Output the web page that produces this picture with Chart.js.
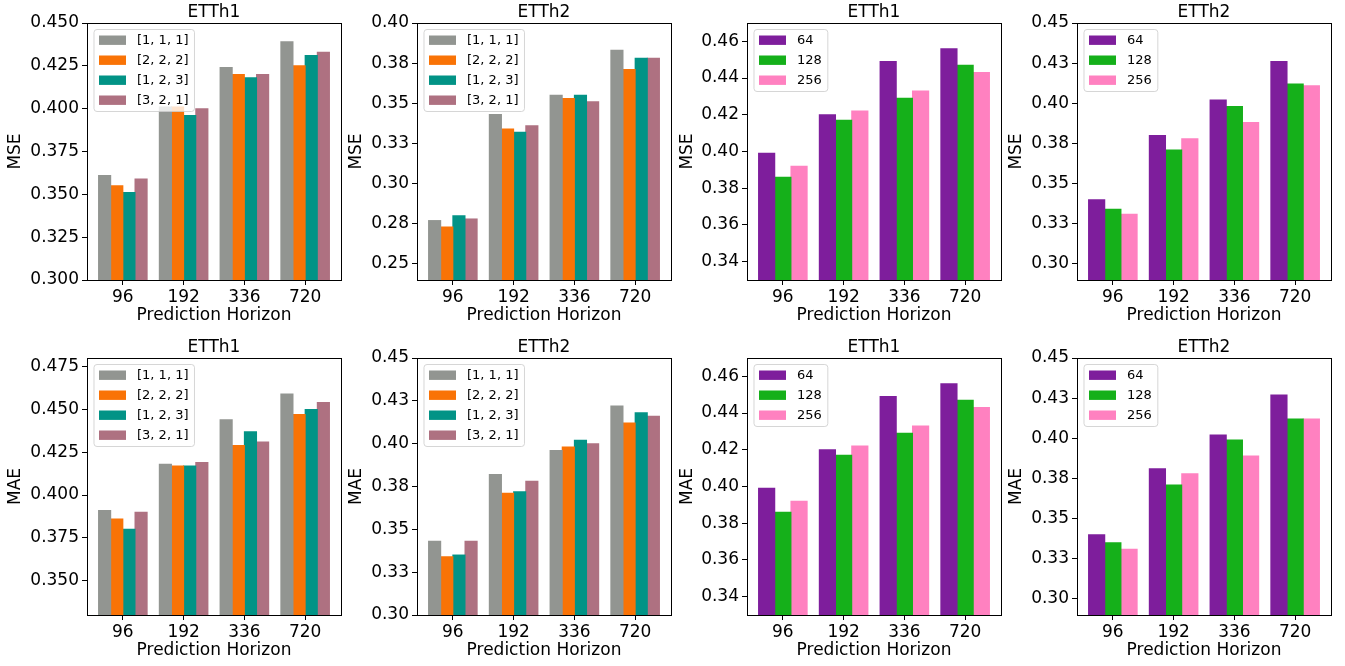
<!DOCTYPE html>
<html>
<head>
<meta charset="utf-8">
<script src="https://cdn.jsdelivr.net/npm/chart.js@4.4.0/dist/chart.umd.min.js"></script>
<style>
  body { margin: 0; width: 1345px; height: 666px; overflow: hidden; background: #fff; position: relative; }
  canvas { position: absolute; }
</style>
</head>
<body>
<script>
// x categories and legend names
const horizons = ['96', '192', '336', '720'];
const kernelNames = ['[1, 1, 1]', '[2, 2, 2]', '[1, 2, 3]', '[3, 2, 1]'];
const dimNames = ['64', '128', '256'];

// MSE, ETTh1, kernel sizes
const mseH1_111 = [0.361, 0.401, 0.424, 0.439];
const mseH1_222 = [0.355, 0.401, 0.420, 0.425];
const mseH1_123 = [0.351, 0.396, 0.418, 0.431];
const mseH1_321 = [0.359, 0.400, 0.420, 0.433];
// MSE, ETTh2, kernel sizes
const mseH2_111 = [0.277, 0.343, 0.355, 0.383];
const mseH2_222 = [0.273, 0.334, 0.353, 0.371];
const mseH2_123 = [0.280, 0.332, 0.355, 0.378];
const mseH2_321 = [0.278, 0.336, 0.351, 0.378];
// MSE, ETTh1, hidden dims
const mseH1_64 = [0.399, 0.420, 0.449, 0.456];
const mseH1_128 = [0.386, 0.417, 0.429, 0.447];
const mseH1_256 = [0.392, 0.422, 0.433, 0.443];
// MSE, ETTh2, hidden dims
const mseH2_64 = [0.340, 0.380, 0.402, 0.426];
const mseH2_128 = [0.334, 0.371, 0.398, 0.412];
const mseH2_256 = [0.331, 0.378, 0.388, 0.411];

// MAE, ETTh1, kernel sizes
const maeH1_111 = [0.391, 0.418, 0.444, 0.459];
const maeH1_222 = [0.386, 0.417, 0.429, 0.447];
const maeH1_123 = [0.380, 0.417, 0.437, 0.450];
const maeH1_321 = [0.390, 0.419, 0.431, 0.454];
// MAE, ETTh2, kernel sizes
const maeH2_111 = [0.343, 0.382, 0.396, 0.422];
const maeH2_222 = [0.334, 0.371, 0.398, 0.412];
const maeH2_123 = [0.335, 0.372, 0.402, 0.418];
const maeH2_321 = [0.343, 0.378, 0.400, 0.416];
// MAE, ETTh1, hidden dims
const maeH1_64 = [0.399, 0.420, 0.449, 0.456];
const maeH1_128 = [0.386, 0.417, 0.429, 0.447];
const maeH1_256 = [0.392, 0.422, 0.433, 0.443];
// MAE, ETTh2, hidden dims
const maeH2_64 = [0.340, 0.381, 0.402, 0.427];
const maeH2_128 = [0.335, 0.371, 0.399, 0.412];
const maeH2_256 = [0.331, 0.378, 0.389, 0.412];

// y tick values + labels
const ticks3dA = [0.300, 0.325, 0.350, 0.375, 0.400, 0.425, 0.450];
const labels3dA = ['0.300', '0.325', '0.350', '0.375', '0.400', '0.425', '0.450'];
const ticks2dB = [0.250, 0.275, 0.300, 0.325, 0.350, 0.375, 0.400];
const labels2dB = ['0.25', '0.28', '0.30', '0.33', '0.35', '0.38', '0.40'];
const ticks2dC = [0.34, 0.36, 0.38, 0.40, 0.42, 0.44, 0.46];
const labels2dC = ['0.34', '0.36', '0.38', '0.40', '0.42', '0.44', '0.46'];
const ticks2dD = [0.300, 0.325, 0.350, 0.375, 0.400, 0.425, 0.450];
const labels2dD = ['0.30', '0.33', '0.35', '0.38', '0.40', '0.43', '0.45'];
const ticks3dE = [0.350, 0.375, 0.400, 0.425, 0.450, 0.475];
const labels3dE = ['0.350', '0.375', '0.400', '0.425', '0.450', '0.475'];

// colours
const kernelColors = ['#929591', '#f97306', '#029386', '#ae7181'];
const dimColors = ['#7e1e9c', '#15b01a', '#ff81c0'];

const FONT = '"DejaVu Sans", sans-serif';
Chart.defaults.font.family = FONT;
Chart.defaults.color = '#000';

const panels = [
  { title: 'ETTh1', metric: 'MSE', names: kernelNames, colors: kernelColors, series: [mseH1_111, mseH1_222, mseH1_123, mseH1_321], yMin: 0.30, yMax: 0.45, ticks: ticks3dA, labels: labels3dA },
  { title: 'ETTh2', metric: 'MSE', names: kernelNames, colors: kernelColors, series: [mseH2_111, mseH2_222, mseH2_123, mseH2_321], yMin: 0.24, yMax: 0.40, ticks: ticks2dB, labels: labels2dB },
  { title: 'ETTh1', metric: 'MSE', names: dimNames, colors: dimColors, series: [mseH1_64, mseH1_128, mseH1_256], yMin: 0.33, yMax: 0.47, ticks: ticks2dC, labels: labels2dC },
  { title: 'ETTh2', metric: 'MSE', names: dimNames, colors: dimColors, series: [mseH2_64, mseH2_128, mseH2_256], yMin: 0.29, yMax: 0.45, ticks: ticks2dD, labels: labels2dD },
  { title: 'ETTh1', metric: 'MAE', names: kernelNames, colors: kernelColors, series: [maeH1_111, maeH1_222, maeH1_123, maeH1_321], yMin: 0.33, yMax: 0.48, ticks: ticks3dE, labels: labels3dE },
  { title: 'ETTh2', metric: 'MAE', names: kernelNames, colors: kernelColors, series: [maeH2_111, maeH2_222, maeH2_123, maeH2_321], yMin: 0.30, yMax: 0.45, ticks: ticks2dD, labels: labels2dD },
  { title: 'ETTh1', metric: 'MAE', names: dimNames, colors: dimColors, series: [maeH1_64, maeH1_128, maeH1_256], yMin: 0.33, yMax: 0.47, ticks: ticks2dC, labels: labels2dC },
  { title: 'ETTh2', metric: 'MAE', names: dimNames, colors: dimColors, series: [maeH2_64, maeH2_128, maeH2_256], yMin: 0.29, yMax: 0.45, ticks: ticks2dD, labels: labels2dD }
];

// page layout (plot frame positions)
const colLeft = [87, 417, 747, 1077];
const rowTop = [23, 358];
const PW = 254, PH = 257;
const YW = 87, TOP = 23, XH = 50;
const ylabelDist = [71, 60, 59, 60];

// legend inside the axes, upper left, like matplotlib
const insideLegend = {
  id: 'insideLegend',
  afterDatasetsDraw(chart) {
    const { ctx, chartArea: a } = chart;
    const sets = chart.data.datasets;
    ctx.save();
    ctx.font = '13px ' + FONT;
    const tw = Math.max(...sets.map(d => ctx.measureText(d.label).width));
    const x0 = a.left + 7, y0 = a.top + 6.5;
    const w = 43 + tw + 6, h = sets.length * 20 + 2, r = 3;
    ctx.beginPath();
    ctx.moveTo(x0 + r, y0);
    ctx.arcTo(x0 + w, y0, x0 + w, y0 + h, r);
    ctx.arcTo(x0 + w, y0 + h, x0, y0 + h, r);
    ctx.arcTo(x0, y0 + h, x0, y0, r);
    ctx.arcTo(x0, y0, x0 + w, y0, r);
    ctx.closePath();
    ctx.fillStyle = 'rgba(255,255,255,0.8)';
    ctx.fill();
    ctx.strokeStyle = 'rgba(204,204,204,0.8)';
    ctx.lineWidth = 1;
    ctx.stroke();
    sets.forEach((d, k) => {
      const cy = y0 + 10.7 + k * 20;
      ctx.fillStyle = d.backgroundColor;
      ctx.fillRect(x0 + 5, cy - 4.7, 27, 9.4);
      ctx.fillStyle = '#000';
      ctx.textBaseline = 'middle';
      ctx.fillText(d.label, x0 + 43, cy);
    });
    ctx.restore();
  }
};

// full box round the plot area
const frame = {
  id: 'frame',
  afterDatasetsDraw(chart) {
    const { ctx, chartArea: a } = chart;
    ctx.save();
    ctx.strokeStyle = '#000';
    ctx.lineWidth = 1;
    ctx.strokeRect(a.left + 0.5, a.top + 0.5, a.right - a.left, a.bottom - a.top);
    ctx.restore();
  }
};

panels.forEach((p, i) => {
  const col = i % 4, row = Math.floor(i / 4);
  const cv = document.createElement('canvas');
  cv.width = YW + PW + YW;
  cv.height = TOP + PH + XH;
  cv.style.left = (colLeft[col] - YW) + 'px';
  cv.style.top = (rowTop[row] - TOP) + 'px';
  document.body.appendChild(cv);

  const tickFont = { family: FONT, size: 17 };
  new Chart(cv, {
    type: 'bar',
    data: {
      datasets: p.series.map((vals, k) => ({
        label: p.names[k],
        data: vals.map((v, j) => ({ x: j, y: v })),
        backgroundColor: p.colors[k],
        borderWidth: 0,
        base: p.yMin,
        inflateAmount: 0.5,
        categoryPercentage: 0.8,
        barPercentage: 1.0
      }))
    },
    options: {
      responsive: false,
      animation: false,
      devicePixelRatio: 1,
      layout: { padding: { left: 0, right: YW, top: 0, bottom: 0 } },
      plugins: {
        legend: { display: false },
        tooltip: { enabled: false },
        title: {
          display: true, text: p.title, color: '#000', fullSize: false,
          font: { family: FONT, size: 17, weight: 'normal', lineHeight: 1.2 },
          padding: { top: 2.4, bottom: 0.2 }
        }
      },
      scales: {
        x: {
          type: 'linear', min: -0.59, max: 3.59, offset: false,
          afterBuildTicks: ax => { ax.ticks = horizons.map((h, j) => ({ value: j })); },
          afterFit: ax => { ax.height = XH; },
          ticks: { callback: (v, j) => horizons[j], font: tickFont, color: '#000', padding: 2, maxRotation: 0, autoSkip: false },
          grid: { offset: false, drawOnChartArea: false, drawTicks: true, tickLength: 5, color: '#000', lineWidth: 1 },
          border: { display: false },
          title: { display: true, text: 'Prediction Horizon', color: '#000', font: tickFont, padding: { top: 0, bottom: 4.3 } }
        },
        y: {
          min: p.yMin, max: p.yMax,
          afterBuildTicks: ax => { ax.ticks = p.ticks.map(v => ({ value: v })); },
          afterFit: ax => { ax.width = YW; },
          ticks: { callback: (v, j) => p.labels[j], font: tickFont, color: '#000', padding: 3, autoSkip: false },
          grid: { drawOnChartArea: false, drawTicks: true, tickLength: 5, color: '#000', lineWidth: 1 },
          border: { display: false },
          title: { display: true, text: p.metric, color: '#000', font: tickFont, padding: { top: YW - ylabelDist[col] - 10.2, bottom: 0 } }
        }
      }
    },
    plugins: [insideLegend, frame]
  });
});
</script>
</body>
</html>
